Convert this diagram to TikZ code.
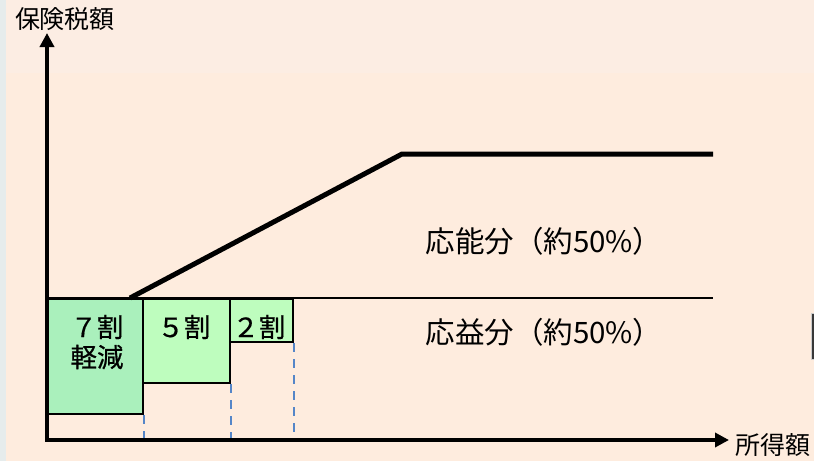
\documentclass[tikz,border=0pt]{standalone}
\usepackage{fontspec}
\newfontfamily\jp{Noto Sans CJK JP}
\newfontfamily\jpm[FakeBold=0.6]{Noto Sans CJK JP}
\usetikzlibrary{arrows.meta}
\definecolor{bgmain}{HTML}{FEECDE}
\definecolor{bgtop}{HTML}{FCEDE3}
\definecolor{bgstrip}{HTML}{E6ECEC}
\definecolor{greenA}{HTML}{AAF0BC}
\definecolor{greenB}{HTML}{BEFDBE}
\definecolor{dashblue}{HTML}{5586C8}
\tikzset{
  axis/.style={line width=4pt, -{Triangle[length=14pt,width=14pt]}},
  curve/.style={line width=5pt, line join=miter},
  base/.style={line width=2.5pt},
  boxA/.style={draw=black, line width=2pt, fill=greenA, anchor=north west, inner sep=0pt},
  boxB/.style={draw=black, line width=2pt, fill=greenB, anchor=north west, inner sep=0pt},
  lbl/.style={font=\jp\fontsize{29.5}{34}\selectfont, inner sep=0pt},
  boxlbl/.style={font=\jpm\fontsize{26.5}{30}\selectfont, inner sep=0pt},
  axlbl/.style={font=\jp\fontsize{25}{30}\selectfont, inner sep=0pt},
  guide/.style={draw=dashblue, line width=2.6pt, dash pattern=on 9pt off 7pt}
}
\begin{document}
\begin{tikzpicture}[x=1pt,y=-1pt]
\useasboundingbox (0,0) rectangle (814,461);
\fill[bgmain] (0,0) rectangle (814,461);
\fill[bgtop] (0,0) rectangle (814,73);
\fill[bgstrip] (0,0) rectangle (6,461);
\fill[black!78, draw=black!20, line width=0.6pt] (811,313) rectangle (816,359);

% axes
\coordinate (origin) at (47,440);
\coordinate (ytip) at (47,33);
\coordinate (xtip) at (729,440);
\node[axlbl] (ylabel) at (65,19) {保険税額};
\node[axlbl] (xlabel) at (773,445) {所得額};

% boxes
\node[boxA, minimum width=95pt, minimum height=115pt] (b7) at (47,298) {};
\node[boxB, minimum width=87pt, minimum height=84pt] (b5) at (142,298) {};
\node[boxB, minimum width=63pt, minimum height=43pt] (b2) at (229,298) {};

\node[boxlbl] (t7a) at (97,327) {７割};
\node[boxlbl] (t7b) at (97,357) {軽減};
\node[boxlbl] (t5) at (184,327) {５割};
\node[boxlbl] (t2) at (259,327) {２割};

% dashed guides
\draw[guide] (b7.south east) -- (b7.south east |- origin);
\draw[guide] (b5.south east) -- (b5.south east |- origin);
\draw[guide] (b2.south east) -- (b2.south east |- origin);

% base line and graph
\coordinate (bend0) at (130,298);
\coordinate (bend1) at (402,154);
\coordinate (end1) at (713,154);
\coordinate (end0) at (713,298);
\draw[base] (origin |- bend0) -- (end0);
\draw[curve] (bend0) -- (bend1) -- (end1);

\draw[axis] (origin) -- (ytip);
\draw[axis] ([xshift=-2pt]origin) -- (xtip);

\node[lbl] (upper) at (544,241) {応能分（約50\%）};
\node[lbl] (lower) at (544,332) {応益分（約50\%）};
\end{tikzpicture}
\end{document}
